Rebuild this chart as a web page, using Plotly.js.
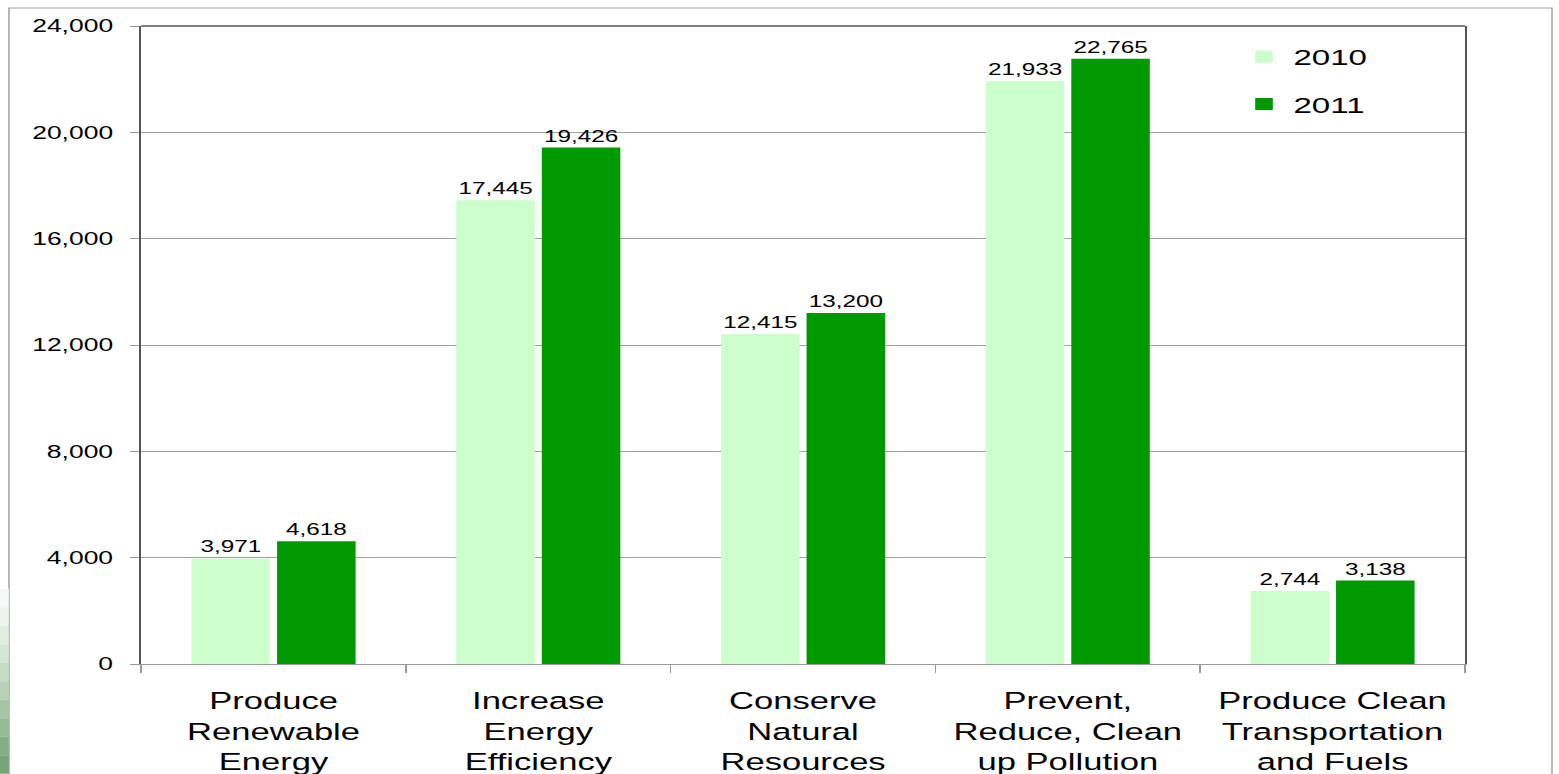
<!DOCTYPE html>
<html>
<head>
<meta charset="utf-8">
<script src="https://cdn.plot.ly/plotly-3.0.1.min.js"></script>
<style>
html,body{margin:0;padding:0;background:#fff;overflow:hidden;}
#wrap{width:1559px;height:774px;overflow:hidden;}
#chart{width:1060px;height:774px;transform-origin:0 0;}
</style>
</head>
<body>
<div id="wrap"><div id="chart"></div></div>
<script>
var categories = [
  "Produce<br>Renewable<br>Energy",
  "Increase<br>Energy<br>Efficiency",
  "Conserve<br>Natural<br>Resources",
  "Prevent,<br>Reduce, Clean<br>up Pollution",
  "Produce Clean<br>Transportation<br>and Fuels"
];
var values2010 = [3971, 17445, 12415, 21933, 2744];
var values2011 = [4618, 19426, 13200, 22765, 3138];
var seriesNames = ["2010", "2011"];
var yTickVals = [0, 4000, 8000, 12000, 16000, 20000, 24000];

var FONT = "Liberation Sans, Arial, sans-serif";

var traces = [
  {
    type: "bar", name: seriesNames[0], x: categories, y: values2010,
    marker: {color: "#CCFFCC", line: {width: 0}},
    texttemplate: "%{y:,}", textposition: "outside", constraintext: "none",
    cliponaxis: false,
    textfont: {family: FONT, size: 16.5, color: "#000"},
    legendgroup: "a"
  },
  {
    type: "bar", name: seriesNames[1], x: categories, y: values2011,
    marker: {color: "#009900", line: {width: 0}},
    texttemplate: "%{y:,}", textposition: "outside", constraintext: "none",
    cliponaxis: false,
    textfont: {family: FONT, size: 16.5, color: "#000"},
    legendgroup: "b"
  }
];

var stripShapes = [];
var stripColors = ["#f6faf6", "#edf4ed", "#e2ede2", "#d5e5d5", "#c6dbc6", "#b6d1b6", "#a5c5a5", "#94ba94", "#84af84", "#76a576"];
var bandH = 0.29 / stripColors.length;
for (var si = 0; si < stripColors.length; si++) {
  var stripTop = 0.118 - si * bandH;
  stripShapes.push({type: "rect", xref: "paper", yref: "paper",
    x0: -0.107, x1: -0.1, y0: stripTop - bandH, y1: stripTop,
    fillcolor: stripColors[si], line: {width: 0}, layer: "below"});
}

var layout = {
  width: 1060, height: 774,
  margin: {l: 96, r: 64, t: 26, b: 110, pad: 0},
  paper_bgcolor: "#ffffff", plot_bgcolor: "#ffffff",
  font: {family: FONT, color: "#000"},
  barmode: "group", bargap: 0.354, bargroupgap: 0.082,
  showlegend: true,
  legend: {
    x: 0.826, y: 0.985, xanchor: "left", yanchor: "top",
    font: {family: FONT, size: 22.5, color: "#000"},
    bgcolor: "rgba(0,0,0,0)", borderwidth: 0,
    traceorder: "grouped", tracegroupgap: 15
  },
  xaxis: {
    type: "category",
    showline: true, linecolor: "#9a9a9a", linewidth: 1,
    ticks: "outside", tickson: "boundaries", ticklen: 8, tickcolor: "#9a9a9a", tickwidth: 1,
    tickfont: {family: FONT, size: 23.5, color: "#000"},
    ticklabelstandoff: 16,
    showgrid: false, zeroline: false, fixedrange: true, automargin: false
  },
  yaxis: {
    range: [0, 24000], tickvals: yTickVals, tickformat: ",d",
    showline: true, linecolor: "#555", linewidth: 1.5, mirror: true,
    ticks: "outside", ticklen: 6, tickcolor: "#9a9a9a", tickwidth: 1,
    tickfont: {family: FONT, size: 18, color: "#000"},
    ticklabelstandoff: 8,
    showgrid: true, gridcolor: "#a0a0a0", gridwidth: 1,
    zeroline: false, fixedrange: true, automargin: false
  },
  shapes: [
    {type: "rect", xref: "paper", yref: "paper",
     x0: -0.0999, x1: 1.0658, y0: -0.3, y1: 1.0282,
     line: {color: "#a0a0a0", width: 1}, fillcolor: "rgba(0,0,0,0)", layer: "below"},
    {type: "line", xref: "paper", yref: "paper", x0: 0, x1: 1, y0: 1, y1: 1,
     line: {color: "#555", width: 1.5}}
  ].concat(stripShapes)
};

Plotly.newPlot("chart", traces, layout, {displayModeBar: false, staticPlot: true}).then(function () {
  document.getElementById("chart").style.transform = "scaleX(1.4708)";
});
</script>
</body>
</html>
